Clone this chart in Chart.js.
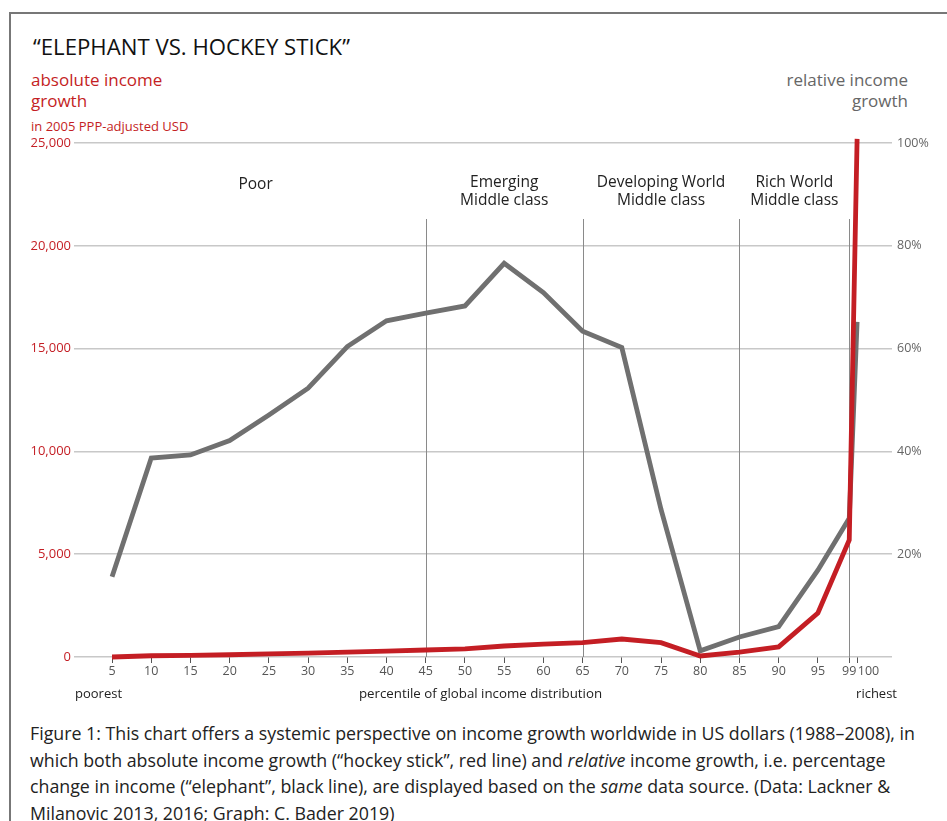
<!DOCTYPE html>
<html>
<head>
<meta charset="utf-8">
<script src="https://cdn.jsdelivr.net/npm/chart.js@4"></script>
<style>
  body { margin: 0; background: #fff; font-family: "Open Sans", sans-serif; }
  #page { position: relative; width: 947px; height: 821px; overflow: hidden; }
  #frame { position: absolute; left: 9px; top: 12px; width: 960px; height: 830px;
           border-left: 2px solid #777; border-top: 2px solid #777; }
  .t { position: absolute; white-space: nowrap; }
  #chartBox { position: absolute; left: 0; top: 130px; width: 947px; height: 580px; }
</style>
</head>
<body>
<div id="page">
  <div id="frame"></div>
  <div class="t" style="left:33px;top:35px;font-size:22.2px;line-height:24px;color:#111;">“ELEPHANT VS. HOCKEY STICK”</div>
  <div class="t" style="left:31px;top:69px;font-size:17px;line-height:21px;color:#c41e24;">absolute income<br>growth</div>
  <div class="t" style="left:31px;top:118px;font-size:13px;line-height:16px;color:#c41e24;">in 2005 PPP-adjusted USD</div>
  <div class="t" style="right:39px;top:69px;font-size:17px;line-height:21px;color:#666;text-align:right;">relative income<br>growth</div>

  <div id="chartBox"><canvas id="elephantChart"></canvas></div>

  <div class="t" style="left:75px;top:684px;font-size:13px;line-height:18px;color:#222;">poorest</div>
  <div class="t" style="left:300px;width:361px;top:684px;font-size:13.3px;line-height:18px;color:#222;text-align:center;">percentile of global income distribution</div>
  <div class="t" style="right:50px;top:684px;font-size:13px;line-height:18px;color:#222;">richest</div>

  <div class="t" style="left:30px;top:720px;font-size:17.8px;line-height:26.7px;color:#222;">
    Figure 1: This chart offers a systemic perspective on income growth worldwide in US dollars (1988–2008), in<br>
    which both absolute income growth (“hockey stick”, red line) and <i>relative</i> income growth, i.e. percentage<br>
    change in income (“elephant”, black line), are displayed based on the <i>same</i> data source. (Data: Lackner &amp;<br>
    Milanovic 2013, 2016; Graph: C. Bader 2019)
  </div>
</div>

<script>
// percentile of global income distribution
const percentiles = [5, 10, 15, 20, 25, 30, 35, 40, 45, 50, 55, 60, 65, 70, 75, 80, 85, 90, 95, 99, 100];

// "hockey stick": absolute income growth, 2005 PPP USD
const absoluteGrowth = [0, 60, 80, 110, 150, 190, 240, 290, 340, 400, 535, 630, 700, 875, 700, 50, 240, 490, 2140, 5690, 25200];

// "elephant": relative income growth, %
const relativeGrowth = [15.6, 38.7, 39.3, 42.1, 47.1, 52.3, 60.4, 65.4, 66.9, 68.3, 76.6, 70.9, 63.4, 60.2, 28.7, 1.2, 3.9, 5.9, 16.9, 27.0, 65.2];

const xTicks = [5, 10, 15, 20, 25, 30, 35, 40, 45, 50, 55, 60, 65, 70, 75, 80, 85, 90, 95, 99, 100];
const usdTicks = [0, 5000, 10000, 15000, 20000, 25000];
const pctTicks = [0, 20, 40, 60, 80, 100];

// group borders (percentile) and names
const groupBorders = [45, 65, 85, 99];
const groupNames = [["Poor"], ["Emerging", "Middle class"], ["Developing World", "Middle class"], ["Rich World", "Middle class"]];
const groupLabelAt = [23.3, 55, 75, 92];

const RED = "#c41e24";
const GREY = "#707070";
const FONT = "'Open Sans', sans-serif";

const groupsPlugin = {
    id: "groups",
    beforeDatasetsDraw(chart) {
        const ctx = chart.ctx;
        const x = chart.scales.x;
        const bottom = chart.chartArea.bottom;
        ctx.save();
        ctx.strokeStyle = "#8a8a8a";
        ctx.lineWidth = 1;
        groupBorders.forEach(v => {
            const px = Math.round(x.getPixelForValue(v)) + 0.5;
            ctx.beginPath();
            ctx.moveTo(px, 89);
            ctx.lineTo(px, bottom);
            ctx.stroke();
        });
        ctx.fillStyle = "#222";
        ctx.font = "15.5px " + FONT;
        ctx.textAlign = "center";
        ctx.textBaseline = "middle";
        groupNames.forEach((lines, i) => {
            const px = x.getPixelForValue(groupLabelAt[i]);
            if (lines.length === 1) {
                ctx.fillText(lines[0], px, 55);
            } else {
                ctx.fillText(lines[0], px, 52.5);
                ctx.fillText(lines[1], px, 70.5);
            }
        });
        ctx.restore();
    }
};

const pointsOf = arr => percentiles.map((p, i) => ({ x: p, y: arr[i] }));

new Chart(document.getElementById("elephantChart"), {
    type: "line",
    data: {
        datasets: [
            {
                label: "absolute income growth",
                data: pointsOf(absoluteGrowth),
                yAxisID: "yUsd",
                borderColor: RED,
                borderWidth: 4.8,
                pointRadius: 0,
                tension: 0,
                clip: false
            },
            {
                label: "relative income growth",
                data: pointsOf(relativeGrowth),
                yAxisID: "yPct",
                borderColor: GREY,
                borderWidth: 4.8,
                pointRadius: 0,
                tension: 0,
                clip: false
            }
        ]
    },
    options: {
        responsive: true,
        maintainAspectRatio: false,
        animation: false,
        layout: { padding: { top: 13, left: 0, right: 0, bottom: 0 } },
        plugins: { legend: { display: false }, tooltip: { enabled: false } },
        scales: {
            x: {
                type: "linear",
                min: 0.15,
                max: 104.45,
                afterBuildTicks: s => { s.ticks = xTicks.map(v => ({ value: v })); },
                afterFit: s => { s.height = 53; },
                border: { display: false },
                grid: { drawOnChartArea: false, drawTicks: true, tickLength: 6, color: "#555", lineWidth: 1 },
                ticks: {
                    autoSkip: false,
                    maxRotation: 0,
                    padding: 1,
                    color: "#555",
                    font: { family: FONT, size: 12.5 },
                    callback: v => (v === 100 ? "\u00a0\u00a0\u00a0\u00a0\u00a0\u00a0\u00a0100" : String(v))
                }
            },
            yUsd: {
                position: "left",
                min: 0,
                max: 25000,
                afterBuildTicks: s => { s.ticks = usdTicks.map(v => ({ value: v })); },
                afterFit: s => { s.width = 74; },
                border: { display: false },
                grid: { color: "#c8c8c8", lineWidth: 1.5, drawTicks: false },
                ticks: {
                    padding: 3,
                    color: RED,
                    font: { family: FONT, size: 13 },
                    callback: v => v.toLocaleString("en-US")
                }
            },
            yPct: {
                position: "right",
                min: 0,
                max: 100,
                afterBuildTicks: s => { s.ticks = pctTicks.map(v => ({ value: v })); },
                afterFit: s => { s.width = 55; },
                border: { display: false },
                grid: { display: false },
                ticks: {
                    padding: -3,
                    color: "#666",
                    font: { family: FONT, size: 12.5 },
                    callback: v => (v === 0 ? "" : v + "%")
                }
            }
        }
    },
    plugins: [groupsPlugin]
});
</script>
</body>
</html>
